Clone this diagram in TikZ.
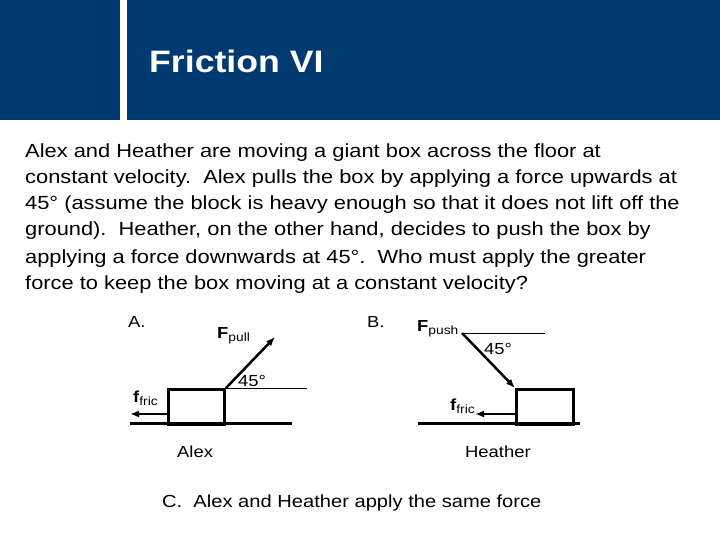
\documentclass[tikz,border=0pt]{standalone}
\usepackage{fontspec}
\usetikzlibrary{arrows.meta}
\setmainfont{Liberation Sans}[FakeStretch=1.15]
\begin{document}
\begin{tikzpicture}[x=1pt,y=-1pt,
  txt/.style={inner sep=0,anchor=base west,font=\fontsize{19}{26}\selectfont},
  lbl/.style={inner sep=0,anchor=base west,font=\fontsize{16}{19}\selectfont},
  thick line/.style={line width=3pt},
  force/.style={line width=2.5pt,-{Latex[length=9pt,width=7pt]}}]
\useasboundingbox (0,0) rectangle (720,540);
\fill[white] (0,0) rectangle (720,540);
\fill[fill={rgb,255:red,0;green,58;blue,112}] (0,0) rectangle (120,120);
\fill[fill={rgb,255:red,0;green,58;blue,112}] (127,0) rectangle (720,120);
\node[inner sep=0,anchor=base west,text=white,font=\bfseries\fontsize{31}{36}\selectfont] (title) at (149,73) {Friction VI};
\node[txt] (l1) at (25,158) {Alex and Heather are moving a giant box across the floor at};
\node[txt] (l2) at (25,184) {constant velocity.\ \ Alex pulls the box by applying a force upwards at};
\node[txt] (l3) at (25,210) {45° (assume the block is heavy enough so that it does not lift off the};
\node[txt] (l4) at (25,236) {ground).\ \ Heather, on the other hand, decides to push the box by};
\node[txt] (l5) at (25,263) {applying a force downwards at 45°.\ \ Who must apply the greater};
\node[txt] (l6) at (25,289) {force to keep the box moving at a constant velocity?};
% A
\node[lbl] (A) at (128,327) {A.};
\draw[thick line] (130,423) -- (292,423);
\node[draw,line width=3pt,minimum width=56pt,minimum height=35pt,inner sep=0,anchor=north west] (boxA) at (167,388) {};
\coordinate (pa) at (275,337);
\coordinate (ha) at (307,388);
\coordinate (fa) at (130,414);
\draw[force] (boxA.north east) -- (pa);
\draw[line width=0.8pt] (boxA.north east) -- (ha);
\draw[force] (boxA.west |- fa) -- (fa);
\node[inner sep=0,anchor=base west,font=\fontsize{16}{19}\selectfont] (angA) at (238,386) {45°};
\node[inner sep=0,anchor=base west] (fpull) at (217,338) {\fontsize{16}{19}\selectfont\textbf{F}\fontsize{12}{14}\selectfont\raisebox{-3pt}{pull}};
\node[inner sep=0,anchor=base west] (ffa) at (133,402) {\fontsize{16}{19}\selectfont\textbf{f}\fontsize{12}{14}\selectfont\raisebox{-3pt}{fric}};
\node[lbl] (alex) at (177,457) {Alex};
% B
\node[lbl] (B) at (367,327) {B.};
\draw[thick line] (418,423) -- (580,423);
\node[draw,line width=3pt,minimum width=57pt,minimum height=35pt,inner sep=0,anchor=north west] (boxB) at (515,388) {};
\coordinate (pb) at (462,333);
\coordinate (hb) at (545,333);
\coordinate (fb) at (475,414);
\draw[force] (pb) -- (boxB.north west);
\draw[line width=0.8pt] (pb) -- (hb);
\draw[force] (boxB.west |- fb) -- (fb);
\node[inner sep=0,anchor=base west,font=\fontsize{16}{19}\selectfont] (angB) at (484,354) {45°};
\node[inner sep=0,anchor=base west] (fpush) at (417,331) {\fontsize{16}{19}\selectfont\textbf{F}\fontsize{12}{14}\selectfont\raisebox{-3pt}{push}};
\node[inner sep=0,anchor=base west] (ffb) at (450,410) {\fontsize{16}{19}\selectfont\textbf{f}\fontsize{12}{14}\selectfont\raisebox{-3pt}{fric}};
\node[lbl] (heather) at (465,457) {Heather};
\node[lbl,font=\fontsize{17.5}{20}\selectfont] (C) at (162,507) {C.\ \ Alex and Heather apply the same force};
\end{tikzpicture}
\end{document}
